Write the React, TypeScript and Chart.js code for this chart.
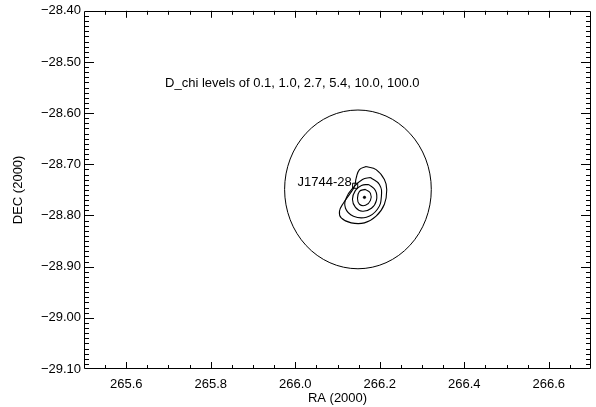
import React, { useEffect, useRef } from 'react';
import { Chart, registerables } from 'chart.js';

Chart.register(...registerables);

// Axis ranges
const RA_MIN = 265.5;
const RA_MAX = 266.7;
const DEC_MIN = -29.1;
const DEC_MAX = -28.4;

// Tick labels
const raTickLabels = [265.6, 265.8, 266.0, 266.2, 266.4, 266.6];
const decTickLabels = [-28.4, -28.5, -28.6, -28.7, -28.8, -28.9, -29.0, -29.1];

// Error circle (RA, DEC centre and radii in degrees)
const circleCenter = [266.1484, -28.749];
const circleRadiusRA = 0.1736;
const circleRadiusDEC = 0.1551;

// D_chi contours (RA, DEC)
const contourOuter = [
  [266.1678, -28.7044], [266.1914, -28.7103], [266.211, -28.7296], [266.2165, -28.749],
  [266.211, -28.7781], [266.1914, -28.8014], [266.1638, -28.8144], [266.1324, -28.8144],
  [266.1088, -28.8047], [266.1047, -28.7917], [266.1142, -28.7756], [266.1284, -28.7587],
  [266.1402, -28.7432], [266.1442, -28.7271], [266.152, -28.7103],
];
const contour3 = [
  [266.178, -28.7258], [266.1992, -28.7393], [266.2039, -28.7626], [266.1945, -28.7878],
  [266.1685, -28.8033], [266.1378, -28.8014], [266.1189, -28.7859], [266.1213, -28.7646],
  [266.1378, -28.7452], [266.1591, -28.7296],
];
const contour2 = [
  [266.1732, -28.7393], [266.1898, -28.751], [266.1921, -28.7704], [266.1803, -28.7859],
  [266.1591, -28.7917], [266.1425, -28.784], [266.1354, -28.7685], [266.1425, -28.751],
  [266.1567, -28.7413],
];
const contour1 = [
  [266.1662, -28.749], [266.178, -28.7568], [266.178, -28.7704], [266.1662, -28.7801],
  [266.152, -28.7781], [266.1473, -28.7665], [266.152, -28.7529],
];
const contourPeak = [[266.1638, -28.7646]];

// Source marker and labels
const sourcePos = [266.1418, -28.7419];
const sourceName = 'J1744-28';
const sourceLabelPos = [266.0055, -28.7355];
const levelsText = 'D_chi levels of 0.1, 1.0, 2.7, 5.4, 10.0, 100.0';
const levelsTextPos = [265.692, -28.541];
const xTitle = 'RA (2000)';
const yTitle = 'DEC (2000)';

const FAMILY = '"Liberation Sans", Arial, Helvetica, sans-serif';
const FONT = '13px ' + FAMILY;

const toPts = (arr: number[][]) => arr.map(([x, y]) => ({ x, y }));
const closed = (arr: number[][]) => toPts([...arr, arr[0]]);

const fmtNeg = (v: number, d: number) => {
  const s = Math.abs(v).toFixed(d);
  return (v < 0 ? '\u2212' : '') + s;
};

const framePlugin = {
  id: 'frame',
  afterDraw(chart: any) {
    const ctx = chart.ctx as CanvasRenderingContext2D;
    const { left, right, top, bottom } = chart.chartArea;
    const xs = chart.scales.x;
    const ys = chart.scales.y;
    ctx.save();
    ctx.strokeStyle = '#000';
    ctx.lineWidth = 1;

    // error circle
    const cx = xs.getPixelForValue(circleCenter[0]);
    const cy = ys.getPixelForValue(circleCenter[1]);
    const rx = Math.abs(xs.getPixelForValue(circleCenter[0] + circleRadiusRA) - cx);
    const ry = Math.abs(ys.getPixelForValue(circleCenter[1] + circleRadiusDEC) - cy);
    ctx.beginPath();
    ctx.ellipse(cx, cy, rx, ry, 0, 0, Math.PI * 2);
    ctx.stroke();

    // box
    ctx.beginPath();
    ctx.rect(Math.round(left) + 0.5, Math.round(top) + 0.5, Math.round(right - left) - 1, Math.round(bottom - top) - 1);
    ctx.stroke();

    // ticks (inward)
    ctx.beginPath();
    const nx = Math.round((RA_MAX - RA_MIN) / 0.05);
    for (let i = 1; i < nx; i++) {
      const v = RA_MIN + i * 0.05;
      const px = Math.round(xs.getPixelForValue(v)) + 0.5;
      const major = (i - 2) % 4 === 0;
      const len = major ? 7 : 4;
      ctx.moveTo(px, bottom);
      ctx.lineTo(px, bottom - len);
      ctx.moveTo(px, top);
      ctx.lineTo(px, top + len);
    }
    const ny = Math.round((DEC_MAX - DEC_MIN) / 0.01);
    for (let i = 1; i < ny; i++) {
      const v = DEC_MIN + i * 0.01;
      const py = Math.round(ys.getPixelForValue(v)) + 0.5;
      const major = i % 10 === 0;
      const len = major ? 10 : 5;
      ctx.moveTo(left, py);
      ctx.lineTo(left + len, py);
      ctx.moveTo(right, py);
      ctx.lineTo(right - len, py);
    }
    ctx.stroke();

    // texts
    ctx.fillStyle = '#000';
    ctx.font = FONT;
    ctx.textBaseline = 'middle';
    ctx.textAlign = 'left';
    ctx.fillText(levelsText, xs.getPixelForValue(levelsTextPos[0]), ys.getPixelForValue(levelsTextPos[1]));
    ctx.fillText(sourceName, xs.getPixelForValue(sourceLabelPos[0]), ys.getPixelForValue(sourceLabelPos[1]));

    ctx.textAlign = 'center';
    ctx.fillText(xTitle, (left + right) / 2, 398);
    ctx.save();
    ctx.translate(18, (top + bottom) / 2);
    ctx.rotate(-Math.PI / 2);
    ctx.fillText(yTitle, 0, 0);
    ctx.restore();

    ctx.restore();
  },
};

export default function App() {
  const ref = useRef<HTMLCanvasElement | null>(null);
  useEffect(() => {
    if (!ref.current) return;
    const lineDs = (label: string, arr: number[][]) => ({
      label,
      data: closed(arr),
      showLine: true,
      borderColor: '#000',
      borderWidth: 1.1,
      pointRadius: 0,
      tension: 0.45,
      fill: false,
    });
    const chart = new Chart(ref.current, {
      type: 'scatter',
      data: {
        datasets: [
          lineDs('contour 1', contour1),
          lineDs('contour 2', contour2),
          lineDs('contour 3', contour3),
          lineDs('contour 4', contourOuter),
          {
            label: 'peak',
            data: toPts(contourPeak),
            pointRadius: 1.3,
            pointStyle: 'circle',
            backgroundColor: '#000',
            borderColor: '#000',
            borderWidth: 0.5,
          },
          {
            label: sourceName,
            data: toPts([sourcePos]),
            pointRadius: 3.6,
            pointStyle: 'rect',
            backgroundColor: 'rgba(0,0,0,0)',
            borderColor: '#000',
            borderWidth: 1,
          },
        ] as any,
      },
      options: {
        animation: false,
        responsive: true,
        maintainAspectRatio: false,
        layout: { padding: { top: 8, right: 4, left: 0, bottom: 0 } },
        plugins: {
          legend: { display: false },
          tooltip: { enabled: false },
        },
        scales: {
          x: {
            type: 'linear',
            min: RA_MIN,
            max: RA_MAX,
            grid: { display: true, drawOnChartArea: false, drawTicks: false },
            border: { display: false },
            afterBuildTicks: (s: any) => {
              s.ticks = raTickLabels.map((v) => ({ value: v }));
            },
            ticks: {
              autoSkip: false,
              maxRotation: 0,
              padding: 8,
              color: '#000',
              font: { family: FAMILY, size: 13 },
              callback: (v: any) => Number(v).toFixed(1),
            },
            afterFit: (s: any) => {
              s.height = 38;
            },
          },
          y: {
            type: 'linear',
            min: DEC_MIN,
            max: DEC_MAX,
            grid: { display: true, drawOnChartArea: false, drawTicks: false },
            border: { display: false },
            afterBuildTicks: (s: any) => {
              s.ticks = decTickLabels.map((v) => ({ value: v }));
            },
            ticks: {
              autoSkip: false,
              padding: 3,
              color: '#000',
              font: { family: FAMILY, size: 13 },
              callback: (v: any) => fmtNeg(Number(v), 2),
            },
            afterFit: (s: any) => {
              s.width = 84;
            },
          },
        },
      } as any,
      plugins: [framePlugin],
    });
    return () => chart.destroy();
  }, []);

  return (
    <div style={{ position: 'fixed', left: 0, top: 0, width: 596, height: 407, background: '#fff' }}>
      <canvas ref={ref} />
    </div>
  );
}
